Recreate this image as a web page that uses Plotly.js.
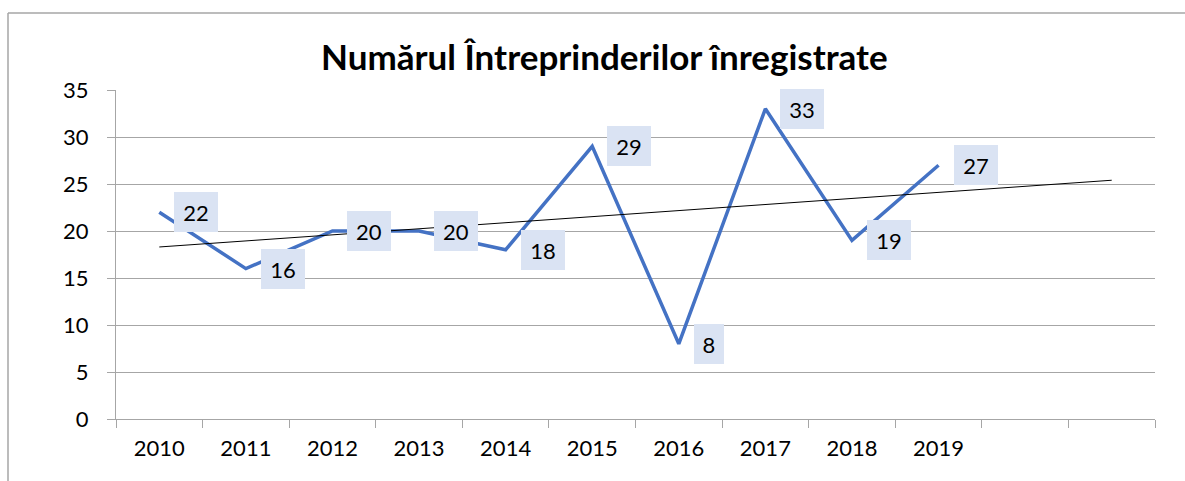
<!DOCTYPE html>
<html>
<head>
<meta charset="utf-8">
<script src="https://cdn.plot.ly/plotly-3.0.1.min.js"></script>
<style>
html,body{margin:0;padding:0;background:#fff;}
#chart{width:1185px;height:481px;}
</style>
</head>
<body>
<div id="chart"></div>
<script>
// Data
const years = ['2010','2011','2012','2013','2014','2015','2016','2017','2018','2019'];
const values = [22, 16, 20, 20, 18, 29, 8, 33, 19, 27];
const forecastPeriods = 2;           // trendline extended two periods forward
const trendValues = [18.3, 25.4];    // linear trendline at first and last period
const yTicks = [0, 5, 10, 15, 20, 25, 30, 35];
const titleText = 'Numărul Întreprinderilor înregistrate';

const nCats = years.length + forecastPeriods;
const xIdx = years.map((_, i) => i);
const boundaries = Array.from({length: nCats + 1}, (_, i) => i - 0.5);

const W = 1185, H = 481;
const M = {l: 116, r: 30, t: 90, b: 62};
const pw = W - M.l - M.r, ph = H - M.t - M.b;
const px = x => (x - M.l) / pw;
const py = y => (H - M.b - y) / ph;

const font = 'Lato, "Open Sans", sans-serif';
const grey = '#a6a6a6';

const traces = [
  {
    x: xIdx, y: values, type: 'scatter', mode: 'lines',
    line: {color: '#4472c4', width: 3.5},
    hoverinfo: 'skip', showlegend: false
  },
  {
    x: [0, nCats - 1], y: trendValues, type: 'scatter', mode: 'lines',
    line: {color: '#000000', width: 1},
    hoverinfo: 'skip', showlegend: false
  },
  {
    // invisible trace on the label axis
    x: xIdx, y: values, xaxis: 'x2', type: 'scatter', mode: 'none',
    hoverinfo: 'skip', showlegend: false
  }
];

const annotations = values.map((v, i) => ({
  x: i, y: v, xref: 'x', yref: 'y',
  text: String(v), showarrow: false,
  xanchor: 'left', yanchor: 'middle', xshift: 15,
  width: String(v).length * 14, height: 24, align: 'center',
  bgcolor: '#dae3f3', borderpad: 8, borderwidth: 0,
  font: {family: font, size: 22, color: '#000'}
}));

const layout = {
  width: W, height: H,
  margin: M,
  paper_bgcolor: '#fff', plot_bgcolor: '#fff',
  title: {
    text: '<b>' + titleText + '</b>',
    font: {family: font, size: 35, color: '#000'},
    x: 0.51, xanchor: 'center', y: 0.88, yanchor: 'middle'
  },
  xaxis: {
    type: 'linear', range: [-0.5, nCats - 0.5],
    tickvals: boundaries, ticktext: boundaries.map(() => ''),
    ticks: 'outside', ticklen: 8, tickcolor: grey, tickwidth: 1,
    showline: true, linecolor: grey, linewidth: 1,
    showgrid: false, zeroline: false, fixedrange: true
  },
  xaxis2: {
    overlaying: 'x', matches: 'x', type: 'linear', range: [-0.5, nCats - 0.5],
    tickvals: xIdx, ticktext: years, ticks: '',
    showline: false, showgrid: false, zeroline: false,
    tickfont: {family: font, size: 22, color: '#000'},
    ticklabelstandoff: 14
  },
  yaxis: {
    range: [0, 35], tickvals: yTicks, ticktext: yTicks.map(String),
    ticks: 'outside', ticklen: 8, tickcolor: grey, tickwidth: 1,
    showline: true, linecolor: grey, linewidth: 1,
    showgrid: true, gridcolor: grey, gridwidth: 1,
    zeroline: false, fixedrange: true,
    tickfont: {family: font, size: 22, color: '#000'},
    ticklabelstandoff: 14
  },
  annotations: annotations,
  shapes: [
    {type: 'line', xref: 'paper', yref: 'paper',
     x0: px(8), x1: px(8), y0: py(13), y1: py(H + 5),
     line: {color: grey, width: 1.5}},
    {type: 'line', xref: 'paper', yref: 'paper',
     x0: px(8), x1: px(W + 5), y0: py(13), y1: py(13),
     line: {color: grey, width: 1.5}}
  ]
};

Plotly.newPlot('chart', traces, layout, {staticPlot: true, displayModeBar: false});
</script>
</body>
</html>
